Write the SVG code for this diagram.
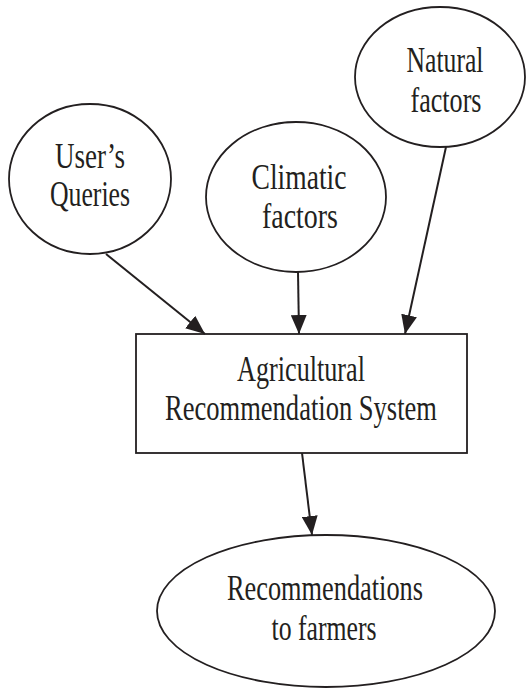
<svg xmlns="http://www.w3.org/2000/svg" width="531" height="688" viewBox="0 0 531 688">
<style>
.shape{fill:#fff;stroke:#231f20;stroke-width:1.8}
.lbl{font-family:"Liberation Serif","Times New Roman",serif;font-size:35px;fill:#231f20;text-anchor:middle}
.edge{stroke:#231f20;stroke-width:2;fill:none;marker-end:url(#ah)}
</style>
<defs>
<marker id="ah" markerUnits="userSpaceOnUse" markerWidth="20" markerHeight="16" refX="19" refY="8" orient="auto">
<path d="M0,0 L19,8 L0,16 Z" fill="#231f20"/>
</marker>
</defs>
<rect width="531" height="688" fill="#fff"/>
<g id="users-queries">
<ellipse class="shape" cx="90" cy="179" rx="81" ry="75"/>
<text class="lbl" x="90" y="168" textLength="70" lengthAdjust="spacingAndGlyphs">User’s</text>
<text class="lbl" x="90" y="206" textLength="80" lengthAdjust="spacingAndGlyphs">Queries</text>
</g>
<g id="climatic-factors">
<ellipse class="shape" cx="296" cy="197" rx="90" ry="75"/>
<text class="lbl" x="299" y="189" textLength="95" lengthAdjust="spacingAndGlyphs">Climatic</text>
<text class="lbl" x="300" y="228" textLength="76" lengthAdjust="spacingAndGlyphs">factors</text>
</g>
<g id="natural-factors">
<ellipse class="shape" cx="440" cy="77" rx="85" ry="70"/>
<text class="lbl" x="445" y="72" textLength="77" lengthAdjust="spacingAndGlyphs">Natural</text>
<text class="lbl" x="446" y="112" textLength="71" lengthAdjust="spacingAndGlyphs">factors</text>
</g>
<g id="ars">
<rect class="shape" x="136" y="334" width="331" height="119"/>
<text class="lbl" x="301" y="381" textLength="128" lengthAdjust="spacingAndGlyphs">Agricultural</text>
<text class="lbl" x="301" y="420" textLength="272" lengthAdjust="spacingAndGlyphs">Recommendation System</text>
</g>
<g id="recommendations">
<ellipse class="shape" cx="326" cy="611" rx="169" ry="76"/>
<text class="lbl" x="325" y="600" textLength="196" lengthAdjust="spacingAndGlyphs">Recommendations</text>
<text class="lbl" x="324" y="640" textLength="105" lengthAdjust="spacingAndGlyphs">to farmers</text>
</g>
<g id="connectors">
<line class="edge" x1="106" y1="254" x2="205" y2="334"/>
<line class="edge" x1="298" y1="272" x2="299" y2="334"/>
<line class="edge" x1="446" y1="147" x2="405" y2="334"/>
<line class="edge" x1="302" y1="453" x2="312" y2="535"/>
</g>
</svg>
